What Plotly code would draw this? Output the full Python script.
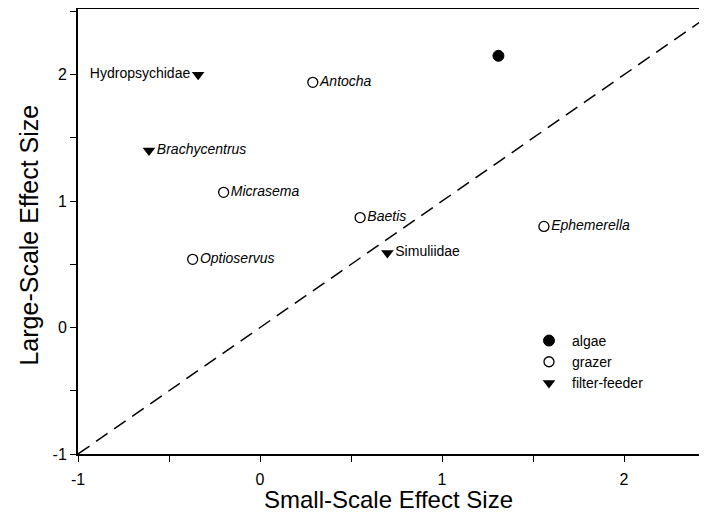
import plotly.graph_objects as go

# Data
algae_names = [""]
algae_x = [1.31]
algae_y = [2.15]

grazer_names = ["<i>Antocha</i>", "<i>Micrasema</i>", "<i>Baetis</i>", "<i>Ephemerella</i>", "<i>Optioservus</i>"]
grazer_x = [0.29, -0.20, 0.55, 1.56, -0.37]
grazer_y = [1.94, 1.07, 0.87, 0.80, 0.54]

filter_names = ["Hydropsychidae", "<i>Brachycentrus</i>", "Simuliidae"]
filter_x = [-0.34, -0.61, 0.70]
filter_y = [2.00, 1.40, 0.59]
filter_textpos = ["middle left", "middle right", "middle right"]

x_ticks = [-1, 0, 1, 2]
y_ticks = [-1, 0, 1, 2]
x_range = [-1, 2.412]
y_range = [-1, 2.52]

FONT = "Liberation Sans, Arial, sans-serif"

fig = go.Figure()

fig.add_shape(type="line", x0=-1, y0=-1, x1=2.6, y1=2.6, xref="x", yref="y",
              line=dict(color="black", width=1.5, dash="14px,8px"), layer="below")

fig.add_trace(go.Scatter(x=algae_x, y=algae_y, mode="markers", name="algae",
                         marker=dict(symbol="circle", size=11, color="black",
                                     line=dict(color="black", width=1))))
fig.add_trace(go.Scatter(x=grazer_x, y=grazer_y, mode="markers+text", name="grazer",
                         text=grazer_names, textposition="middle right",
                         textfont=dict(family=FONT, size=14, color="black"),
                         marker=dict(symbol="circle-open", size=10, color="black",
                                     line=dict(color="black", width=1.3))))
fig.add_trace(go.Scatter(x=filter_x, y=filter_y, mode="markers+text", name="filter-feeder",
                         text=filter_names, textposition=filter_textpos,
                         textfont=dict(family=FONT, size=14, color="black"),
                         marker=dict(symbol="triangle-down", size=11, color="black",
                                     line=dict(color="black", width=0))))

fig.add_annotation(text="Large-Scale Effect Size", xref="paper", yref="paper",
                   x=-0.079, y=0.493, xanchor="center", yanchor="middle",
                   textangle=-90, showarrow=False,
                   font=dict(family=FONT, size=25, color="black"))
fig.add_annotation(text="Small-Scale Effect Size", xref="paper", yref="paper",
                   x=0.5, y=-0.103, xanchor="center", yanchor="middle",
                   showarrow=False,
                   font=dict(family=FONT, size=24, color="black"))

fig.update_layout(
    width=691, height=507,
    margin=dict(l=70, r=0, t=1, b=61),
    paper_bgcolor="white", plot_bgcolor="white",
    font=dict(family=FONT, color="black"),
    showlegend=True,
    legend=dict(x=0.7214, y=0.29, xanchor="left", yanchor="top",
                font=dict(family=FONT, size=14, color="black"),
                bgcolor="rgba(0,0,0,0)", tracegroupgap=0, itemwidth=36),
    xaxis=dict(range=x_range, tickvals=x_ticks, ticktext=[str(v) for v in x_ticks],
               automargin=False,
               showgrid=False, zeroline=False, showline=True, linecolor="black", linewidth=2,
               mirror=True, ticks="outside", ticklen=6, tickwidth=1.2, tickcolor="black",
               ticklabelstandoff=4,
               minor=dict(dtick=0.5, ticks="outside", ticklen=6, tickwidth=1.2, tickcolor="black", showgrid=False),
               tickfont=dict(family=FONT, size=16)),
    yaxis=dict(range=y_range, tickvals=y_ticks, ticktext=[str(v) for v in y_ticks],
               automargin=False,
               showgrid=False, zeroline=False, showline=True, linecolor="black", linewidth=2,
               mirror=False, ticks="outside", ticklen=6, tickwidth=1.2, tickcolor="black",
               minor=dict(dtick=0.5, ticks="outside", ticklen=6, tickwidth=1.2, tickcolor="black", showgrid=False),
               tickfont=dict(family=FONT, size=16)),
)

fig.write_html("out.html")
